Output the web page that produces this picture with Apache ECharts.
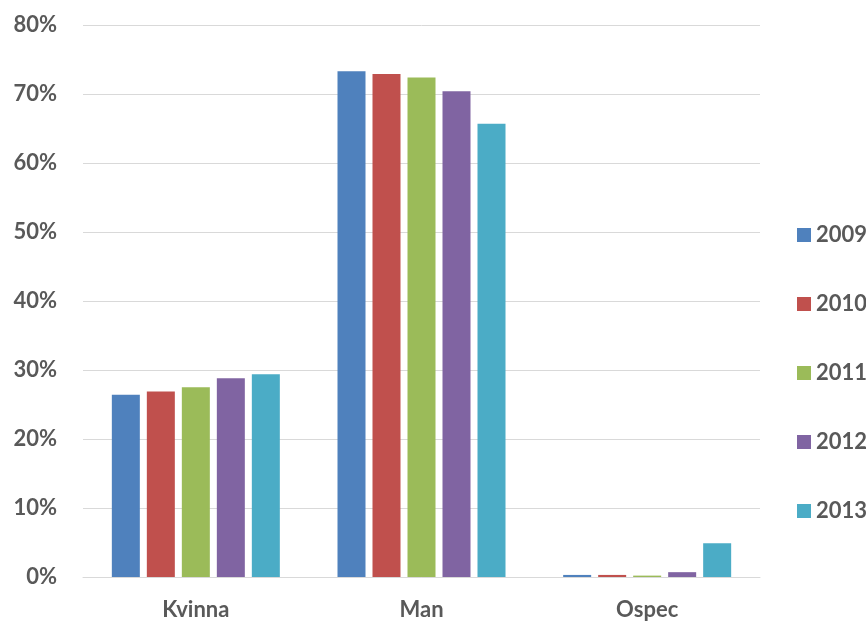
<!DOCTYPE html>
<html>
<head>
<meta charset="utf-8">
<script src="https://cdn.jsdelivr.net/npm/echarts@6/dist/echarts.min.js"></script>
<style>
  html, body { margin: 0; padding: 0; background: #fff; }
  #chart { width: 866px; height: 621px; }
</style>
</head>
<body>
<div id="chart"></div>
<script>
// Share of each gender category per year (percent)
const categories = ['Kvinna', 'Man', 'Ospec'];
const years = ['2009', '2010', '2011', '2012', '2013'];
const values2009 = [26.4, 73.3, 0.3];
const values2010 = [26.9, 72.9, 0.3];
const values2011 = [27.5, 72.4, 0.2];
const values2012 = [28.8, 70.4, 0.7];
const values2013 = [29.4, 65.7, 4.9];
const yTicks = [0, 10, 20, 30, 40, 50, 60, 70, 80];

const colors = ['#4F81BD', '#C0504D', '#9BBB59', '#8064A2', '#4BACC6'];
const seriesValues = [values2009, values2010, values2011, values2012, values2013];
const fontFamily = 'Lato, "Open Sans", sans-serif';
const textColor = '#595959';

const chart = echarts.init(document.getElementById('chart'), null, { renderer: 'canvas' });
chart.setOption({
  animation: false,
  color: colors,
  grid: { left: 83, right: 106, top: 25, bottom: 44, containLabel: false },
  legend: {
    orient: 'vertical',
    left: 792,
    top: 219,
    itemWidth: 14,
    itemHeight: 14,
    itemGap: 47,
    icon: 'rect',
    textStyle: { fontFamily, fontSize: 22, fontWeight: 'bold', color: textColor, lineHeight: 22 },
    data: years
  },
  xAxis: {
    type: 'category',
    data: categories,
    axisLine: { lineStyle: { color: '#D9D9D9', width: 1 } },
    axisTick: { show: false },
    axisLabel: { fontFamily, fontSize: 22, fontWeight: 'bold', color: textColor, margin: 22 }
  },
  yAxis: {
    type: 'value',
    min: yTicks[0],
    max: yTicks[yTicks.length - 1],
    interval: 10,
    axisLine: { show: false },
    axisTick: { show: false },
    splitLine: { lineStyle: { color: '#D9D9D9', width: 1 } },
    axisLabel: { fontFamily, fontSize: 22, fontWeight: 'bold', color: textColor, margin: 26, formatter: '{value}%' }
  },
  series: years.map((y, i) => ({
    name: y,
    type: 'bar',
    data: seriesValues[i],
    barWidth: 28,
    barGap: '25%',
    itemStyle: { color: colors[i] }
  }))
});
</script>
</body>
</html>
